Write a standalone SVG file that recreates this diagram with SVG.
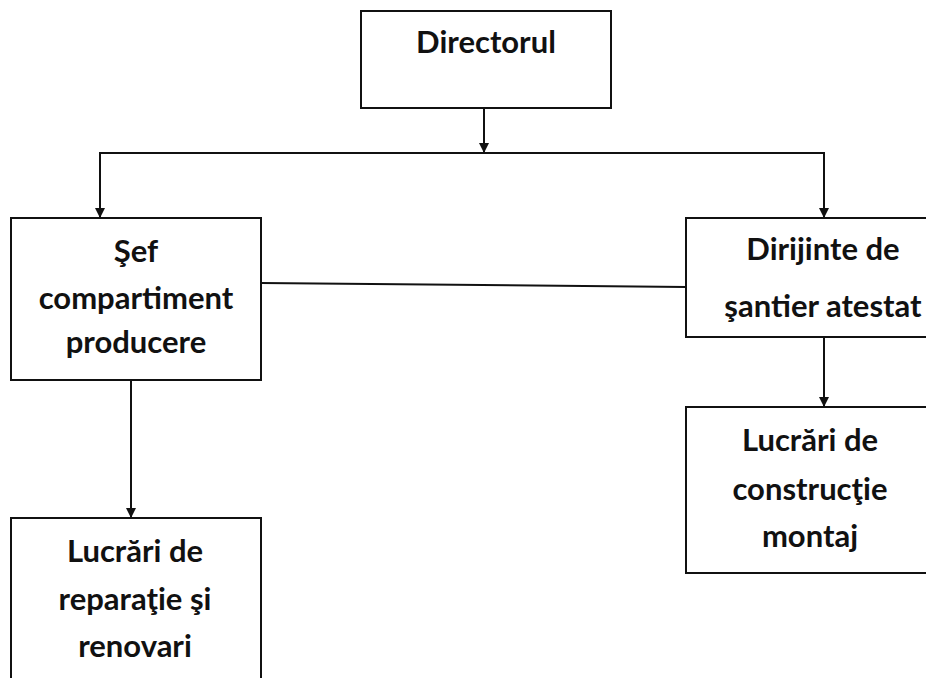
<svg xmlns="http://www.w3.org/2000/svg" width="926" height="678" viewBox="0 0 926 678">
<defs>
<marker id="ah" viewBox="0 0 10 10" refX="10" refY="5" markerWidth="5" markerHeight="5" orient="auto" markerUnits="strokeWidth">
<path d="M0,0 L10,5 L0,10 z" fill="#111"/>
</marker>
<style>
.box{fill:#fff;stroke:#111;stroke-width:2}
.t{font-family:Lato,"Liberation Sans",sans-serif;font-weight:bold;font-size:31px;fill:#111;text-anchor:middle}
.c{stroke:#111;stroke-width:2;fill:none}
</style>
</defs>
<rect width="926" height="678" fill="#fff"/>
<g id="connectors">
<line class="c" x1="484" y1="108" x2="484" y2="153" marker-end="url(#ah)"/>
<line class="c" x1="99" y1="153" x2="825" y2="153"/>
<line class="c" x1="100" y1="153" x2="100" y2="218" marker-end="url(#ah)"/>
<line class="c" x1="824" y1="153" x2="824" y2="218" marker-end="url(#ah)"/>
<line class="c" x1="261" y1="283" x2="686" y2="287"/>
<line class="c" x1="824" y1="337" x2="824" y2="407" marker-end="url(#ah)"/>
<line class="c" x1="131" y1="380" x2="131" y2="518" marker-end="url(#ah)"/>
</g>
<g id="directorul">
<rect class="box" x="361" y="11" width="250" height="97"/>
<text class="t" x="486" y="53">Directorul</text>
</g>
<g id="sef">
<rect class="box" x="11" y="218" width="250" height="162"/>
<text class="t" x="136" y="262">Şef</text>
<text class="t" x="136" y="309">compartiment</text>
<text class="t" x="136" y="353">producere</text>
</g>
<g id="dirijinte">
<rect class="box" x="686" y="218" width="260" height="119"/>
<text class="t" x="823" y="260">Dirijinte de</text>
<text class="t" x="823" y="317">şantier atestat</text>
</g>
<g id="constructie">
<rect class="box" x="686" y="407" width="260" height="166"/>
<text class="t" x="810" y="451">Lucrări de</text>
<text class="t" x="810" y="500">construcţie</text>
<text class="t" x="810" y="547">montaj</text>
</g>
<g id="reparatie">
<rect class="box" x="11" y="518" width="250" height="180"/>
<text class="t" x="135" y="562">Lucrări de</text>
<text class="t" x="135" y="610">reparaţie şi</text>
<text class="t" x="135" y="657">renovari</text>
</g>
</svg>
